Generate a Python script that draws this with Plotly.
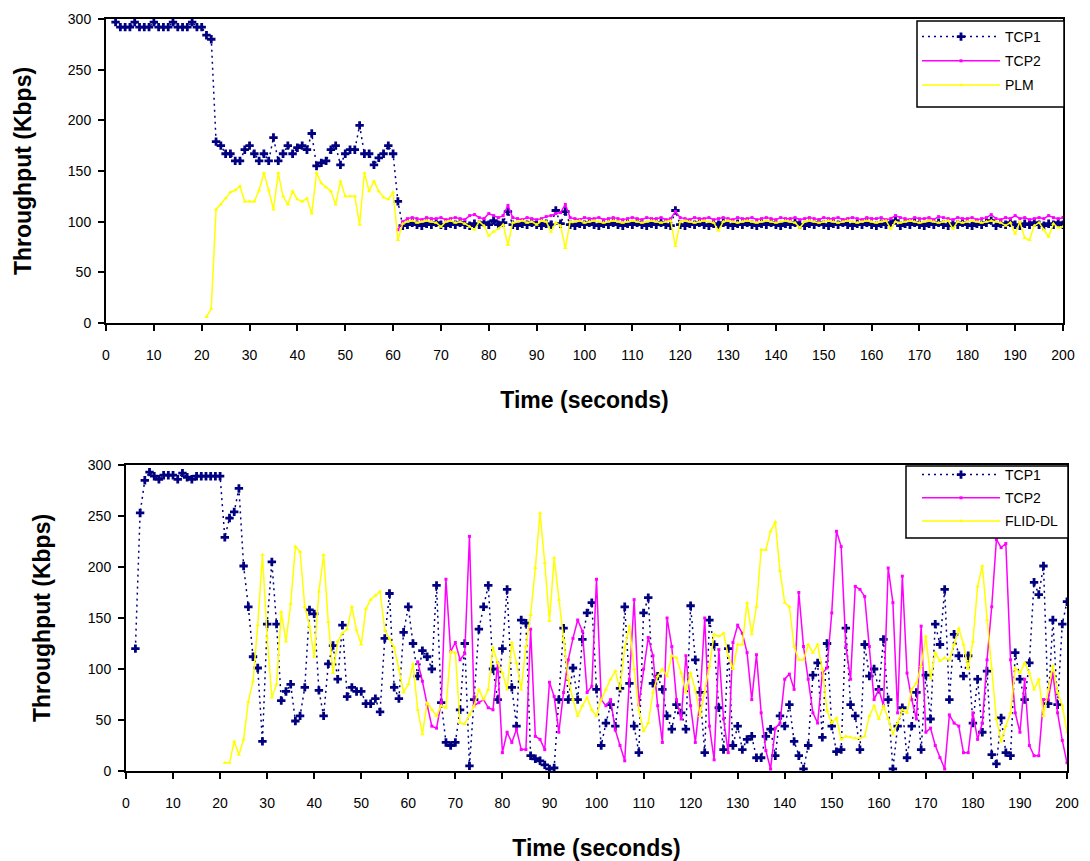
import plotly.graph_objects as go

# ---------------- top panel: TCP1 / TCP2 / PLM ----------------
top_tcp1_start = 2
top_tcp1 = [
    297, 292, 292, 292, 297, 292, 292, 292, 297, 292, 292, 292, 297, 292, 292, 292, 297, 292, 292,
    284, 280, 179, 175, 167, 167, 160, 160, 171, 175, 167, 160, 167, 160, 183, 160, 167, 175, 167, 173,
    175, 171, 187, 155, 158, 160, 171, 175, 156, 167, 171, 171, 195, 167, 167, 156, 163, 167, 175, 167,
    120, 96,
    97, 99, 97, 96, 98, 97, 99, 97, 96, 98,
    97, 99, 97, 96, 98, 97, 99, 97, 101, 97,
    99, 110, 97, 96, 98, 97, 99, 97, 96, 98,
    97, 111, 98, 110, 97, 96, 98, 97, 99, 97,
    96, 98, 97, 99, 97, 96, 98, 97, 99, 97,
    96, 98, 97, 99, 97, 96, 111, 97, 96, 98,
    97, 99, 97, 96, 98, 97, 99, 97, 96, 98,
    97, 99, 97, 96, 98, 97, 99, 97, 96, 98,
    97, 99, 97, 96, 98, 97, 99, 97, 96, 98,
    97, 99, 97, 96, 98, 97, 99, 97, 96, 98,
    97, 99, 101, 96, 98, 97, 99, 97, 96, 98,
    97, 99, 97, 96, 98, 97, 99, 97, 96, 98,
    97, 99, 101, 96, 98, 97, 99, 97, 96, 98,
    97, 99, 97, 96, 98, 97, 99, 97,
]

top_tcp2_start = 61
top_tcp2 = [
    92, 100, 103, 104, 103, 102, 104, 103, 103, 104,
    102, 103, 104, 103, 102, 106, 107, 104, 103, 108,
    106, 104, 106, 116, 104, 103, 102, 104, 103, 102,
    103, 105, 106, 108, 109, 117, 104, 103, 102, 104,
    103, 103, 104, 102, 103, 104, 103, 102, 103, 104,
    103, 102, 104, 103, 103, 104, 102, 103, 110, 104,
    103, 102, 104, 103, 103, 104, 102, 103, 104, 103,
    102, 104, 103, 103, 104, 102, 103, 104, 103, 102,
    104, 103, 103, 104, 102, 103, 104, 103, 102, 104,
    103, 103, 104, 102, 103, 104, 103, 102, 104, 103,
    103, 104, 102, 103, 106, 104, 103, 102, 104, 103,
    103, 104, 102, 105, 104, 103, 102, 104, 103, 103,
    104, 102, 103, 104, 107, 103, 102, 104, 103, 106,
    103, 104, 102, 103, 104, 103, 106, 104, 103, 104,
]

top_plm_start = 21
top_plm = [
    6, 14, 112, 117, 123, 129, 131, 135, 120, 120,
    120, 131, 148, 131, 112, 148, 125, 117, 130, 122,
    120, 123, 108, 148, 138, 134, 130, 117, 140, 125,
    125, 125, 97, 148, 130, 140, 130, 124, 122, 129,
    82, 98, 100, 101, 99, 100, 101, 100, 99, 95,
    100, 101, 99, 100, 98, 95, 92, 100, 96, 86,
    90, 93, 97, 77, 99, 100, 101, 99, 100, 97,
    101, 100, 90, 99, 96, 74, 100, 100, 101, 99,
    100, 101, 100, 99, 100, 101, 100, 99, 100, 101,
    100, 99, 100, 101, 100, 99, 100, 101, 76, 100,
    101, 100, 99, 100, 101, 100, 99, 91, 100, 101,
    100, 99, 100, 101, 100, 99, 100, 101, 100, 99,
    100, 101, 100, 99, 94, 100, 101, 100, 99, 100,
    101, 100, 99, 100, 101, 100, 99, 100, 101, 100,
    99, 100, 101, 93, 100, 99, 100, 101, 100, 99,
    100, 101, 100, 99, 100, 101, 93, 100, 99, 100,
    101, 100, 99, 100, 101, 100, 99, 96, 99, 88,
    100, 84, 82, 96, 99, 92, 85, 98, 94, 95,
]

# ---------------- bottom panel: TCP1 / TCP2 / FLID-DL ----------------
bot_tcp1_start = 2
bot_tcp1 = [
    120, 253, 285, 293, 289, 286, 290, 290, 290, 286,
    292, 288, 286, 289, 289, 289, 289, 289, 289, 229,
    248, 254, 277, 201, 161, 112, 101, 29, 144, 205,
    144, 69, 78, 85, 49, 54, 82, 158, 154, 79,
    54, 105, 123, 90, 143, 73, 82, 78, 78, 66,
    66, 71, 58, 130, 174, 82, 71, 136, 161, 125,
    93, 118, 112, 100, 182, 67, 28, 25, 28, 60,
    125, 5, 70, 139, 161, 182, 100, 70, 120, 178,
    82, 44, 148, 145, 15, 12, 10, 6, 2, 3,
    70, 140, 70, 101, 70, 129, 155, 165, 80, 25,
    47, 65, 44, 81, 161, 86, 44, 18, 155, 170,
    86, 93, 80, 54, 41, 65, 57, 41, 162, 109,
    77, 18, 148, 124, 62, 21, 120, 25, 44, 21,
    31, 34, 13, 13, 34, 41, 15, 54, 44, 65,
    29, 15, 2, 25, 94, 106, 33, 125, 44, 19,
    21, 140, 65, 54, 21, 124, 93, 100, 80, 129,
    70, 2, 44, 62, 13, 44, 77, 21, 94, 51,
    144, 124, 178, 70, 134, 113, 93, 113, 47, 90,
    38, 98, 16, 7, 52, 18, 15, 116, 90, 70,
    106, 185, 173, 201, 66, 148, 65, 144, 166,
]

bot_tcp2_start = 62
bot_tcp2 = [
    107, 88, 65, 44, 42, 67, 188, 117, 126, 109,
    115, 230, 64, 67, 70, 62, 60, 106, 18, 38,
    28, 41, 21, 21, 139, 34, 31, 21, 87, 73,
    38, 77, 109, 130, 148, 137, 77, 83, 188, 70,
    64, 70, 40, 25, 10, 90, 168, 65, 100, 131,
    113, 64, 28, 150, 122, 70, 51, 113, 64, 28,
    70, 150, 44, 11, 119, 51, 18, 126, 143, 135,
    116, 70, 114, 57, 20, 2, 42, 47, 90, 95,
    80, 175, 122, 90, 57, 47, 96, 101, 155, 235,
    220, 122, 90, 181, 178, 171, 122, 70, 80, 64,
    199, 165, 57, 191, 96, 70, 51, 142, 38, 42,
    25, 13, 2, 55, 47, 44, 18, 18, 57, 31,
    47, 109, 161, 227, 219, 223, 109, 57, 38, 90,
    25, 15, 15, 70, 70, 96, 57, 30, 8,
]

bot_flid_start = 21
bot_flid = [
    8, 8, 29, 16, 31, 68, 88, 143, 212, 131,
    72, 85, 156, 127, 164, 220, 215, 161, 142, 112,
    176, 212, 146, 96, 127, 135, 139, 161, 138, 124,
    159, 168, 172, 176, 138, 130, 121, 100, 77, 85,
    105, 60, 36, 67, 60, 54, 64, 62, 117, 116,
    47, 46, 55, 64, 80, 70, 80, 121, 106, 96,
    80, 126, 106, 80, 122, 153, 199, 253, 204, 147,
    209, 168, 129, 90, 70, 54, 64, 72, 60, 54,
    70, 80, 90, 98, 80, 121, 142, 100, 60, 39,
    47, 77, 93, 100, 93, 113, 111, 96, 77, 96,
    80, 54, 77, 103, 134, 132, 135, 113, 100, 124,
    124, 165, 134, 161, 217, 217, 235, 244, 196, 165,
    161, 122, 109, 109, 124, 116, 124, 100, 59, 47,
    52, 31, 34, 33, 32, 32, 34, 54, 64, 51,
    64, 51, 36, 47, 60, 57, 80, 86, 103, 132,
    91, 116, 108, 111, 109, 124, 140, 124, 100, 127,
    181, 201, 148, 100, 51, 29, 44, 57, 101, 96,
    106, 96, 80, 90, 54, 80, 103, 77, 64, 38,
]

x_ticks = list(range(0, 201, 10))
y_ticks = list(range(0, 301, 50))

NAVY = "#000080"
MAGENTA = "#FF00FF"
YELLOW = "#FFFF00"
FONT = "Liberation Sans, Arial, sans-serif"

W, H = 1090, 861


def seconds(start, values):
    return list(range(start, start + len(values)))


def tcp1_trace(start, values, xa, ya, legend):
    return go.Scatter(
        x=seconds(start, values), y=values, name="TCP1", mode="lines+markers",
        line=dict(color=NAVY, width=1.5, dash="2px,4px"),
        marker=dict(symbol="cross", size=7, color=NAVY),
        xaxis=xa, yaxis=ya, legend=legend, legendgroup=legend + "a",
    )


def tcp2_trace(start, values, xa, ya, legend):
    return go.Scatter(
        x=seconds(start, values), y=values, name="TCP2", mode="lines+markers",
        line=dict(color=MAGENTA, width=1.5),
        marker=dict(symbol="square", size=3, color=MAGENTA),
        xaxis=xa, yaxis=ya, legend=legend, legendgroup=legend + "b",
    )


def third_trace(start, values, name, xa, ya, legend):
    return go.Scatter(
        x=seconds(start, values), y=values, name=name, mode="lines+markers",
        line=dict(color=YELLOW, width=1.5),
        marker=dict(symbol="triangle-up", size=4, color=YELLOW),
        xaxis=xa, yaxis=ya, legend=legend, legendgroup=legend + "c",
    )


fig = go.Figure([
    tcp1_trace(top_tcp1_start, top_tcp1, "x", "y", "legend"),
    tcp2_trace(top_tcp2_start, top_tcp2, "x", "y", "legend"),
    third_trace(top_plm_start, top_plm, "PLM", "x", "y", "legend"),
    tcp1_trace(bot_tcp1_start, bot_tcp1, "x2", "y2", "legend2"),
    tcp2_trace(bot_tcp2_start, bot_tcp2, "x2", "y2", "legend2"),
    third_trace(bot_flid_start, bot_flid, "FLID-DL", "x2", "y2", "legend2"),
])


def px_x(a, b):
    return [a / W, b / W]


def px_y(top, bottom):
    return [(H - bottom) / H, (H - top) / H]


axis_common = dict(
    showline=True, linecolor="black", linewidth=2, mirror=True,
    ticks="outside", ticklen=6, tickwidth=1.5, tickcolor="black",
    showgrid=False, zeroline=False, automargin=False,
    tickfont=dict(family=FONT, size=14, color="black"),
    title_font=dict(family=FONT, size=23, color="black"),
)

x_common = dict(axis_common, range=[0, 200], tickmode="array", tickvals=x_ticks,
                ticklabelstandoff=12)
y_common = dict(axis_common, range=[0, 300], tickmode="array", tickvals=y_ticks,
                ticklabelstandoff=4)

# legend entries sit on white framed boxes drawn as shapes
legend_common = dict(
    bgcolor="rgba(0,0,0,0)", borderwidth=0,
    font=dict(family=FONT, size=14, color="black"),
    xanchor="left", yanchor="top", itemwidth=78,
)


def legend_box(left, top, right, bottom):
    return dict(
        type="rect", xref="paper", yref="paper", layer="above",
        x0=left / W, x1=right / W, y0=(H - bottom) / H, y1=(H - top) / H,
        line=dict(color="black", width=1.5), fillcolor="white",
    )


fig.update_layout(
    width=W, height=H,
    margin=dict(l=0, r=0, t=0, b=0),
    paper_bgcolor="white", plot_bgcolor="white",
    font=dict(family=FONT, size=14, color="black"),
    xaxis=dict(x_common, domain=px_x(106, 1063), anchor="y",
               title=dict(text="<b>Time (seconds)</b>", standoff=30)),
    yaxis=dict(y_common, domain=px_y(19, 323), anchor="x",
               title=dict(text="<b>Throughput (Kbps)</b>", standoff=30)),
    xaxis2=dict(x_common, domain=px_x(126, 1067), anchor="y2",
                title=dict(text="<b>Time (seconds)</b>", standoff=30)),
    yaxis2=dict(y_common, domain=px_y(465, 771), anchor="x2",
                title=dict(text="<b>Throughput (Kbps)</b>", standoff=31)),
    legend=dict(legend_common, x=917 / W, y=(H - 21) / H, tracegroupgap=3),
    legend2=dict(legend_common, x=917 / W, y=(H - 459) / H, tracegroupgap=2),
    shapes=[
        legend_box(917, 21, 1064, 107),
        legend_box(906, 466, 1068, 538),
    ],
)

fig.write_html("out.html")
